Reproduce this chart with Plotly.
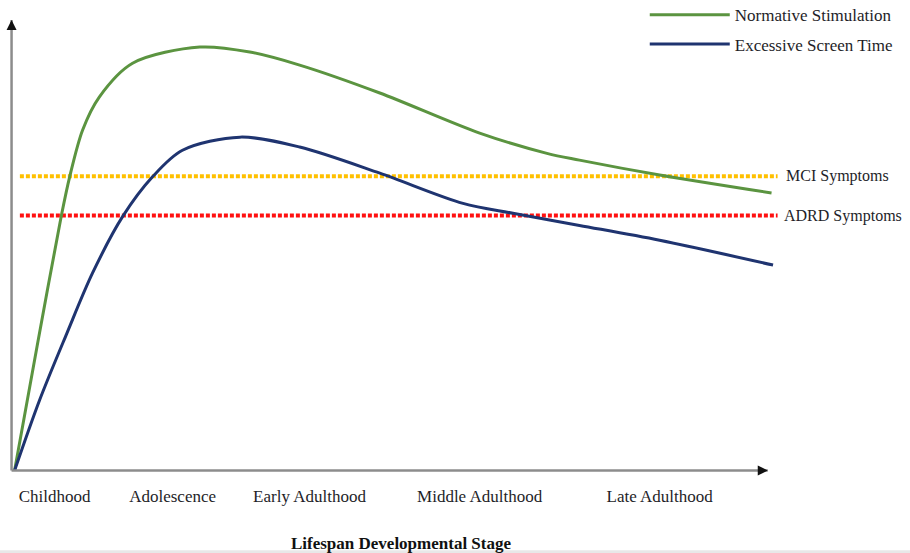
import plotly.graph_objects as go

# Lifespan position (0-100) and relative cognitive level (0-100)
normative_x = [0.4, 3.4, 6.6, 7.7, 9.4, 11.6, 16.0, 24.9, 31.5, 38.1, 48.7, 61.9, 70.8, 75.1, 85.7, 100.5]
normative_y = [0.0, 27.8, 56.7, 65.3, 75.6, 82.9, 90.4, 94.0, 92.9, 90.0, 83.8, 74.9, 70.4, 68.9, 65.6, 61.6]

screen_x = [0.4, 3.7, 7.3, 10.7, 14.7, 18.7, 22.6, 30.2, 38.1, 48.7, 59.7, 66.3, 75.1, 85.7, 100.7]
screen_y = [0.0, 15.6, 30.4, 43.8, 56.4, 65.3, 71.1, 74.0, 71.8, 66.0, 59.3, 57.1, 54.4, 51.1, 45.6]

mci_level = 65.3
adrd_level = 56.6
threshold_x = [1.1, 101.3]

stage_positions = [5.7, 21.3, 39.4, 61.9, 85.7]
stage_labels = ["Childhood", "Adolescence", "Early Adulthood", "Middle Adulthood", "Late Adulthood"]

FONT = "Liberation Serif"
TXT = "#1e1e28"

fig = go.Figure()

fig.add_trace(go.Scatter(x=threshold_x, y=[mci_level, mci_level], mode="lines",
                         line=dict(color="#FFC000", width=4, dash="4px,2px"),
                         showlegend=False, hoverinfo="skip"))
fig.add_trace(go.Scatter(x=threshold_x, y=[adrd_level, adrd_level], mode="lines",
                         line=dict(color="#FF1010", width=4, dash="4px,2px"),
                         showlegend=False, hoverinfo="skip"))

fig.add_trace(go.Scatter(x=normative_x, y=normative_y, mode="lines", name="Normative Stimulation",
                         line=dict(color="#5B9440", width=3, shape="spline", smoothing=0.9),
                         legendgroup="a"))
fig.add_trace(go.Scatter(x=screen_x, y=screen_y, mode="lines", name="Excessive Screen Time",
                         line=dict(color="#1F3470", width=3, shape="spline", smoothing=0.9),
                         legendgroup="b"))

# axis lines
fig.add_shape(type="line", x0=0, y0=0, x1=100, y1=0, xref="x", yref="y",
              line=dict(color="#8c8c8c", width=2.5))
fig.add_shape(type="line", x0=0, y0=0, x1=0, y1=100, xref="x", yref="y",
              line=dict(color="#8c8c8c", width=2.5))
# arrow heads
fig.add_annotation(x=100, y=0, ax=99, ay=0, xref="x", yref="y", axref="x", ayref="y",
                   showarrow=True, arrowhead=2, arrowsize=1, arrowwidth=2, arrowcolor="#111", text="")
fig.add_annotation(x=0, y=100, ax=0, ay=99, xref="x", yref="y", axref="x", ayref="y",
                   showarrow=True, arrowhead=2, arrowsize=1, arrowwidth=2, arrowcolor="#111", text="")

fig.add_annotation(x=102.2, y=mci_level, xref="x", yref="y", text="MCI Symptoms", showarrow=False,
                   xanchor="left", yanchor="middle", font=dict(family=FONT, size=16, color=TXT))
fig.add_annotation(x=101.9, y=adrd_level, xref="x", yref="y", text="ADRD Symptoms", showarrow=False,
                   xanchor="left", yanchor="middle", font=dict(family=FONT, size=16, color=TXT))

# faint strip along the bottom edge
fig.add_shape(type="rect", xref="paper", yref="paper", x0=-0.01, x1=1.15, y0=-0.166, y1=-0.159,
              line=dict(width=0), fillcolor="#e8e8e8", layer="below")

fig.update_layout(
    width=910, height=553,
    margin=dict(l=4, r=112, t=2, b=78, autoexpand=False),
    paper_bgcolor="white", plot_bgcolor="white",
    font=dict(family=FONT, size=17, color=TXT),
    showlegend=True,
    legend=dict(x=0.807, y=1.01, xanchor="left", yanchor="top", bgcolor="rgba(0,0,0,0)",
                itemwidth=80, tracegroupgap=4, font=dict(family=FONT, size=17, color=TXT)),
    xaxis=dict(range=[-1, 104], showgrid=False, zeroline=False, showline=False,
               tickmode="array", tickvals=stage_positions, ticktext=stage_labels,
               ticks="outside", ticklen=6, tickcolor="rgba(0,0,0,0)",
               tickfont=dict(family=FONT, size=17, color=TXT),
               title=dict(text="<b>Lifespan Developmental Stage</b>", standoff=32,
                          font=dict(family=FONT, size=17, color="#111")),
               automargin=False),
    yaxis=dict(range=[-1, 104], showgrid=False, zeroline=False, showline=False,
               showticklabels=False, ticks="", automargin=False),
)

fig.write_html("out.html", config={"displayModeBar": False},
               post_script="document.body.style.margin='0px';")
